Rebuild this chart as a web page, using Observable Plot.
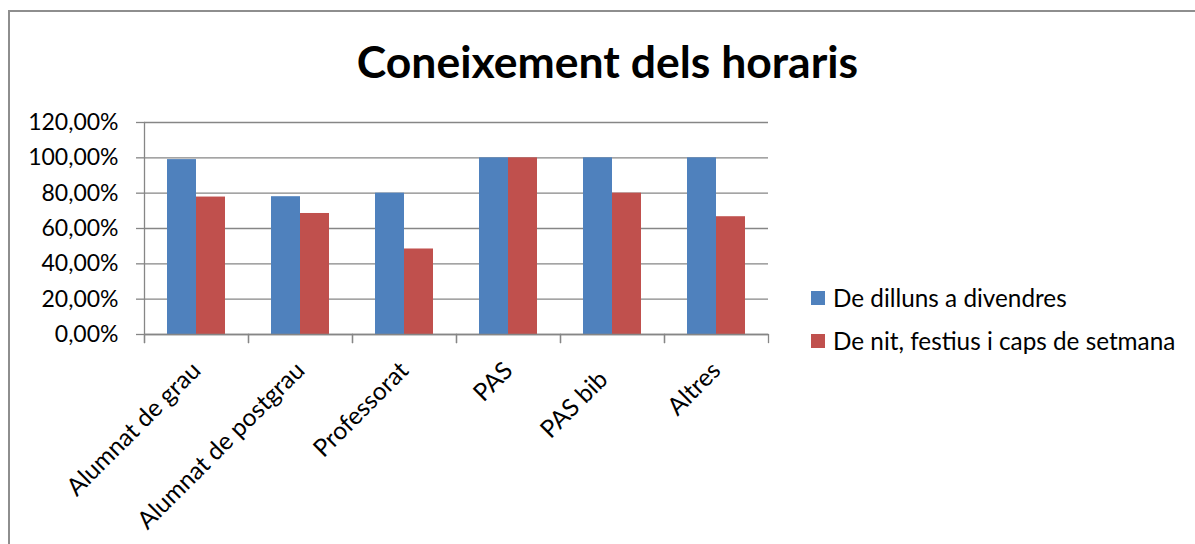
<!DOCTYPE html>
<html><head><meta charset="utf-8">
<script src="https://cdn.jsdelivr.net/npm/d3@7"></script>
<script src="https://cdn.jsdelivr.net/npm/@observablehq/plot@0.6"></script>
<style>
html,body{margin:0;padding:0;background:#fff;overflow:hidden}
#wrap{position:relative;width:1195px;height:544px;overflow:hidden;font-family:Lato,sans-serif;color:#000}
#border{position:absolute;left:8px;top:10px;width:1400px;height:800px;border-left:2px solid #8e8e8e;border-top:2px solid #8e8e8e;box-sizing:border-box}
#title{position:relative;height:100px;width:1195px;box-sizing:border-box;padding-left:20px;text-align:center;font-weight:bold;font-size:44.5px;line-height:1;padding-top:39px}
#chart{position:relative;height:444px}
#legend{position:absolute;left:811px;top:283px}
.item{position:relative;height:43px;font-size:24.3px;white-space:nowrap}
.sw{position:absolute;left:0;top:8px;width:14px;height:14px}
.lab{position:absolute;left:22px;top:0;line-height:30px}
</style></head>
<body>
<div id="wrap">
  <div id="border"></div>
  <div id="title">Coneixement dels horaris</div>
  <div id="chart"></div>
  <div id="legend"></div>
</div>
<script>
const categories = ["Alumnat de grau", "Alumnat de postgrau", "Professorat", "PAS", "PAS bib\u00a0\u00a0", "Altres"];
const series = ["De dilluns a divendres", "De nit, festius i caps de setmana"];
const weekdayValues = [99, 78, 80, 100, 100, 100];
const nightValues = [77.8, 68.5, 48.4, 100, 80, 66.67];
const colors = ["#4F81BD", "#C0504D"];
const yTicks = [0, 20, 40, 60, 80, 100, 120];

const data = categories.flatMap((c, i) => [
  {category: c, series: series[0], value: weekdayValues[i]},
  {category: c, series: series[1], value: nightValues[i]}
]);
const fmt = d => d.toFixed(2).replace(".", ",") + "%";
const axisColor = "#868686";

const plot = Plot.plot({
  width: 1195, height: 444,
  marginTop: 22, marginBottom: 210, marginLeft: 144, marginRight: 427,
  style: {fontFamily: "Lato, sans-serif", fontSize: "23px", color: "#000", background: "transparent", overflow: "visible"},
  fx: {domain: categories, padding: 0, label: null},
  x: {domain: series, paddingInner: 0, paddingOuter: 0.76, axis: null},
  y: {domain: [0, 120], label: null},
  color: {domain: series, range: colors},
  marks: [
    Plot.gridY(yTicks, {stroke: axisColor, strokeOpacity: 1, strokeWidth: 1.3}),
    Plot.axisY(yTicks, {tickSize: 8, tickPadding: 18, tickFormat: fmt, stroke: axisColor, strokeWidth: 1.3, label: null, fontSize: 23}),
    Plot.frame({anchor: "left", facetAnchor: "left", stroke: axisColor, strokeWidth: 1.3, insetBottom: -8}),
    Plot.frame({anchor: "left", stroke: axisColor, strokeWidth: 1.3, insetTop: 212, insetBottom: -8}),
    Plot.frame({anchor: "right", stroke: axisColor, strokeWidth: 1.3, insetTop: 212, insetBottom: -8}),
    Plot.barY(data, {fx: "category", x: "series", y: "value", fill: "series"}),
    Plot.ruleY([0], {stroke: axisColor, strokeWidth: 1.3}),
    Plot.axisFx({anchor: "bottom", tickSize: 0, tickRotate: -45, tickPadding: 32, label: null, fontSize: 24.5})
  ]
});
document.getElementById("chart").appendChild(plot);

const legend = document.getElementById("legend");
series.forEach((s, i) => {
  const item = document.createElement("div");
  item.className = "item";
  item.innerHTML = `<span class="sw" style="background:${colors[i]}"></span><span class="lab"></span>`;
  item.querySelector(".lab").textContent = s;
  legend.appendChild(item);
});
</script>
</body></html>
